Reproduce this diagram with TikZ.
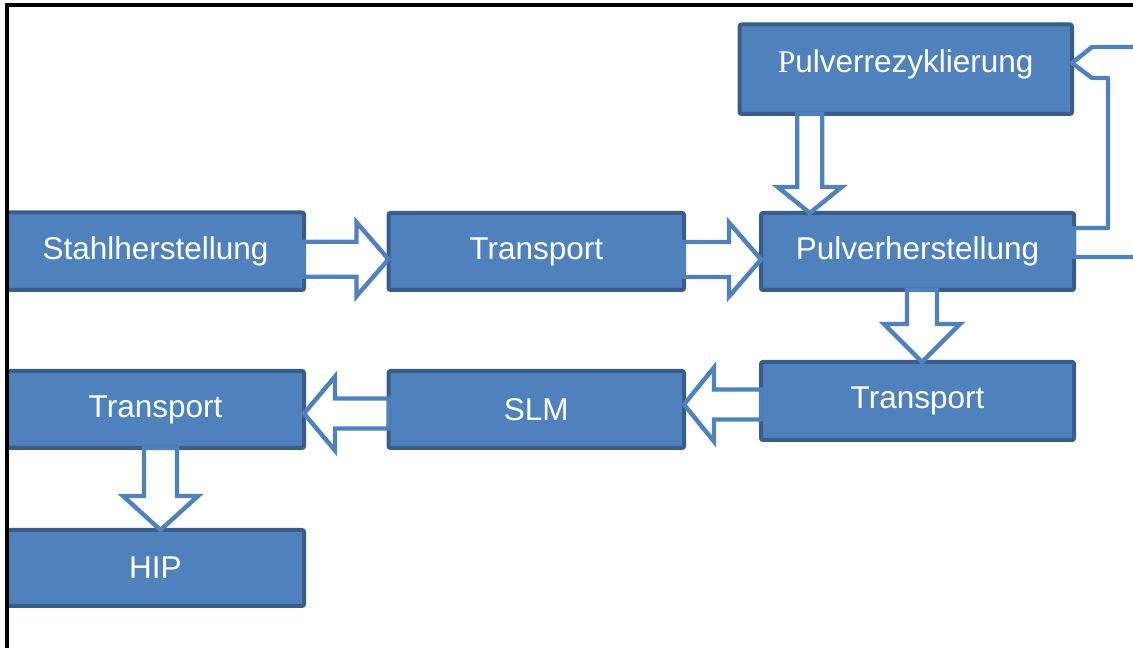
\documentclass[tikz,border=0pt]{standalone}
\usepackage{fontspec}
\usetikzlibrary{calc}
\newfontfamily\boxfont{Liberation Sans}
\newfontfamily\boxserif{Liberation Serif}
\definecolor{boxfill}{HTML}{4F81BD}
\definecolor{boxline}{HTML}{385D8A}
\definecolor{arrowline}{HTML}{4F81BD}

% hollow block arrow pointing right/left between two boxes
% #1 source anchor, #2 tip anchor, #3 axis offset, #4 shaft half width, #5 head half width, #6 signed head length
\newcommand\hblock[6]{%
  \draw[blockarrow] let \p1=(#1), \p2=(#2) in
    ({\x1},{\y1+(#3)+(#4)}) -- ({\x2-(#6)},{\y1+(#3)+(#4)}) -- ({\x2-(#6)},{\y1+(#3)+(#5)})
    -- ({\x2},{\y1+(#3)}) -- ({\x2-(#6)},{\y1+(#3)-(#5)}) -- ({\x2-(#6)},{\y1+(#3)-(#4)})
    -- ({\x1},{\y1+(#3)-(#4)}) -- cycle;}
% hollow block arrow pointing down between two boxes
\newcommand\vblock[6]{%
  \draw[blockarrow] let \p1=(#1), \p2=(#2) in
    ({\x1+(#3)-(#4)},{\y1}) -- ({\x1+(#3)-(#4)},{\y2+(#6)}) -- ({\x1+(#3)-(#5)},{\y2+(#6)})
    -- ({\x1+(#3)},{\y2}) -- ({\x1+(#3)+(#5)},{\y2+(#6)}) -- ({\x1+(#3)+(#4)},{\y2+(#6)})
    -- ({\x1+(#3)+(#4)},{\y1}) -- cycle;}

\begin{document}
\begin{tikzpicture}[x=1pt,y=1pt,
  box/.style={draw=boxline, fill=boxfill, line width=4pt, rounded corners=2pt,
    inner sep=0pt, outer sep=0pt, text=white,
    font=\boxfont\fontsize{31.5}{36}\selectfont},
  blockarrow/.style={draw=arrowline, fill=white, line width=4.4pt, line join=miter},
  returnline/.style={draw=arrowline, line width=4.4pt, line join=round},
  frameline/.style={draw=black, line width=3.2pt}]
\useasboundingbox (0,0) rectangle (1133,648);
\clip (0,0) rectangle (1133,648);

% process boxes
\node[box, minimum width=332.5pt, minimum height=89.5pt, text depth=17pt] (rez) at (905.75,578.75)
  {{\boxserif P}ulverrezyklierung};
\node[box, minimum width=297pt, minimum height=77.5pt] (stahl) at (155.5,396.75) {Stahlherstellung};
\node[box, minimum width=295.5pt, minimum height=77pt] (t1) at (536.25,396.5) {Transport};
\node[box, minimum width=313pt, minimum height=77pt] (pulver) at (917.5,396.5) {Pulverherstellung};
\node[box, minimum width=313pt, minimum height=78pt] (t3) at (917.5,247) {Transport};
\node[box, minimum width=295.5pt, minimum height=77pt] (slm) at (536.25,238.5) {SLM};
\node[box, minimum width=297pt, minimum height=77pt] (t2) at (155.5,238.5) {Transport};
\node[box, minimum width=297pt, minimum height=76pt] (hip) at (155.5,80) {HIP};

% block arrows along the process chain
\hblock{stahl.east}{t1.west}{-8}{17.5}{37}{32}
\hblock{t1.east}{pulver.west}{-8}{17.5}{37}{32}
\vblock{rez.south}{pulver.north}{-96}{12.5}{32}{26}
\vblock{pulver.south}{t3.north}{4.5}{15}{38}{38}
\hblock{t3.west}{slm.east}{-3.5}{15}{37}{-30}
\hblock{slm.west}{t2.east}{-4}{15}{37}{-31}
\vblock{t2.south}{hip.north}{5}{16.5}{37.5}{34}

% recycling loop back to Pulverrezyklierung
\draw[returnline] let \p1=(pulver.east), \p2=(rez.east) in
  (1140,{\y1-5.5}) -- ({\x1},{\y1-5.5}) -- ({\x1},{\y1+23.5}) -- (1108,{\y1+23.5})
  -- (1108,{\y2-8.75}) -- ({\x2+20},{\y2-8.75}) -- ({\x2},{\y2+6.25})
  -- ({\x2+20},{\y2+22.25}) -- (1140,{\y2+22.25});

% outer frame
\draw[frameline] (7,-20) -- (7,643) -- (1150,643);
\end{tikzpicture}
\end{document}
